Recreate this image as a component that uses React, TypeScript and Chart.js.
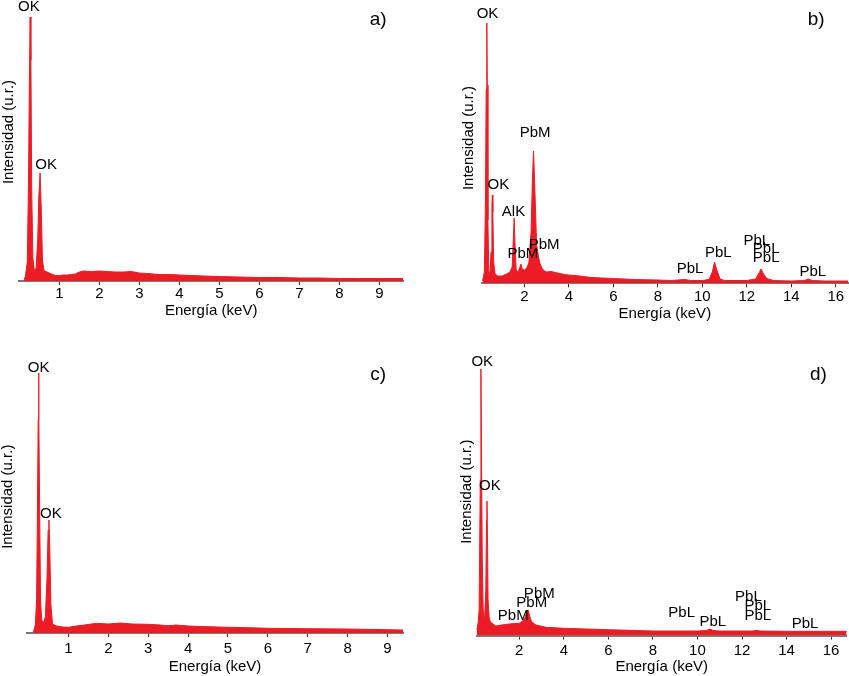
import React, { useEffect, useRef } from "react";
import { Chart, registerables } from "chart.js";

Chart.register(...registerables);

const FONT = '"Liberation Sans", Arial, Helvetica, sans-serif';
const RED = "rgb(237,28,36)";
const FS = 15;

// ---------------- DATA ----------------
// Panel a)
const energyA = [0.12, 0.15, 0.2, 0.23, 0.25, 0.27, 0.29, 0.31, 0.34, 0.38, 0.42, 0.46, 0.49, 0.52, 0.55, 0.58, 0.62, 0.7, 0.8, 0.9, 1.0, 1.1, 1.2, 1.3, 1.4, 1.5, 1.6, 1.8, 2.0, 2.2, 2.4, 2.6, 2.8, 3.0, 3.2, 3.5, 3.8, 4.0, 4.3, 4.6, 5.0, 5.5, 6.0, 6.5, 7.0, 7.5, 8.0, 8.5, 9.0, 9.59];
const intensityA = [2, 4, 19, 101, 191, 264, 221, 91, 23, 9, 13, 41, 86, 108, 71, 21, 10, 9, 7, 5.5, 5.5, 6, 6, 6.5, 7, 9, 10, 9.5, 10, 9.5, 9, 9, 9.5, 8, 7.5, 6.5, 6.5, 6, 5.5, 5, 4.5, 4, 3.5, 3.5, 3, 3, 2.5, 2.5, 2.5, 2.5];
const ticksA = [1, 2, 3, 4, 5, 6, 7, 8, 9];
const labelsA: [string, number, number][] = [
  ["OK", 0.24, 274],
  ["OK", 0.67, 116],
];

// Panel b)
const energyB = [0.12, 0.2, 0.25, 0.28, 0.31, 0.33, 0.36, 0.4, 0.45, 0.5, 0.54, 0.56, 0.58, 0.62, 0.68, 0.8, 1.0, 1.2, 1.35, 1.45, 1.5, 1.54, 1.58, 1.63, 1.72, 1.8, 1.84, 1.9, 2.0, 2.1, 2.2, 2.3, 2.36, 2.41, 2.45, 2.5, 2.55, 2.6, 2.68, 2.78, 2.9, 3.0, 3.2, 3.5, 3.8, 4.0, 4.5, 5.0, 5.5, 6.0, 7.0, 8.0, 8.6, 9.2, 9.5, 10.0, 10.3, 10.45, 10.55, 10.65, 10.8, 11.0, 12.0, 12.4, 12.55, 12.64, 12.75, 12.9, 13.2, 14.0, 14.6, 14.76, 14.95, 15.5, 16.55];
const intensityB = [2.3, 11.3, 83.3, 193.3, 260.3, 198.3, 63.3, 12.3, 9.3, 31.3, 78.3, 88.3, 71.3, 21.3, 9.3, 7.3, 7.3, 9.3, 11.3, 16.3, 43.3, 65.3, 38.3, 13.3, 11.3, 16.3, 19.3, 14.3, 13.3, 15.3, 20.3, 51.3, 103.3, 132.3, 108.3, 73.3, 38.3, 31.3, 21.3, 15.3, 12.3, 11.3, 11.8, 10.3, 8.8, 8.3, 7.3, 5.8, 5.3, 4.8, 3.8, 3.3, 2.8, 3.8, 2.8, 2.8, 3.8, 11.3, 21.3, 13.3, 4.3, 2.8, 2.8, 4.3, 10.3, 14.3, 9.3, 4.8, 2.8, 2.3, 2.8, 4.3, 2.8, 2.3, 2.3];
const ticksB = [2, 4, 6, 8, 10, 12, 14, 16];
const labelsB: [string, number, number][] = [
  ["OK", 0.34, 269.3],
  ["OK", 0.83, 98.3],
  ["AlK", 1.51, 71.6],
  ["PbM", 2.48, 150],
  ["PbM", 1.93, 29.3],
  ["PbM", 2.89, 38.3],
  ["PbL", 9.45, 14],
  ["PbL", 10.72, 30],
  ["PbL", 12.45, 42.6],
  ["PbL", 12.87, 34],
  ["PbL", 12.87, 25],
  ["PbL", 14.97, 11.6],
];

// Panel c)
const energyC = [0.12, 0.17, 0.2, 0.22, 0.24, 0.25, 0.26, 0.28, 0.3, 0.33, 0.37, 0.42, 0.46, 0.49, 0.51, 0.53, 0.56, 0.6, 0.7, 0.85, 1.0, 1.2, 1.4, 1.7, 2.0, 2.3, 2.6, 3.0, 3.3, 3.5, 3.7, 4.0, 4.5, 5.0, 5.5, 6.0, 7.0, 8.0, 9.0, 9.39];
const intensityC = [1, 8, 33, 113, 213, 260, 223, 113, 33, 13, 10, 16, 53, 103, 113, 88, 28, 9, 7, 6, 5.7, 7, 8, 9.7, 9, 10, 9, 8.7, 8, 7.3, 8, 7, 6.3, 5.7, 5.3, 4.7, 4.3, 4, 3.3, 3];
const ticksC = [1, 2, 3, 4, 5, 6, 7, 8, 9];
const labelsC: [string, number, number][] = [
  ["OK", 0.25, 264.7],
  ["OK", 0.56, 119],
];

// Panel d)
const energyD = [0.1, 0.16, 0.2, 0.25, 0.28, 0.31, 0.34, 0.38, 0.44, 0.5, 0.53, 0.55, 0.57, 0.6, 0.65, 0.7, 0.95, 1.2, 1.55, 1.8, 2.0, 2.15, 2.25, 2.35, 2.4, 2.47, 2.55, 2.75, 3.2, 4.0, 5.0, 6.0, 7.0, 8.0, 10.0, 10.4, 10.55, 10.7, 11.0, 12.5, 12.65, 12.8, 14.0, 16.7];
const intensityD = [5.5, 13.5, 25.5, 155.5, 266.5, 165.5, 75.5, 25.5, 14.5, 45.5, 115.5, 134.5, 105.5, 35.5, 17.5, 13.5, 9.5, 10.5, 11.5, 12, 12.2, 14.5, 17.5, 24.5, 25.5, 19.5, 13.8, 10.5, 8.2, 7.2, 6.5, 5.8, 5.2, 4.5, 4.5, 5, 6.5, 5, 4.5, 4.5, 5.2, 4.5, 4.2, 4.2];
const ticksD = [2, 4, 6, 8, 10, 12, 14, 16];
const labelsD: [string, number, number][] = [
  ["OK", 0.34, 273.8],
  ["OK", 0.68, 149.5],
  ["PbM", 1.73, 19.5],
  ["PbM", 2.56, 32.2],
  ["PbM", 2.9, 41.5],
  ["PbL", 9.29, 22.8],
  ["PbL", 10.69, 13.2],
  ["PbL", 12.29, 38.8],
  ["PbL", 12.71, 29.8],
  ["PbL", 12.71, 19.5],
  ["PbL", 14.83, 11.5],
];

const xTitle = "Energía (keV)";
const yTitle = "Intensidad (u.r.)";

// ---------------- LAYOUT ----------------
interface PanelCfg {
  left: number; top: number; width: number; height: number;
  padLeft: number; padRight: number; padTop: number; axisHeight: number;
  xMin: number; xMax: number; yMax: number;
  ticks: number[]; energy: number[]; intensity: number[];
  labels: [string, number, number][];
  letter: [string, number, number];
  yTitleX: number; yTitleY: number;
  tickPad: number; titlePad: number;
}

const panels: PanelCfg[] = [
  {
    left: 0, top: 0, width: 420, height: 330,
    padLeft: 19.3, padRight: 17, padTop: 17, axisHeight: 49,
    xMin: 0, xMax: 9.59, yMax: 264,
    ticks: ticksA, energy: energyA, intensity: intensityA, labels: labelsA,
    letter: ["a)", 8.97, 261], yTitleX: 8.5, yTitleY: 132, tickPad: 0, titlePad: 10,
  },
  {
    left: 430, top: 0, width: 419, height: 330,
    padLeft: 51.7, padRight: 1, padTop: 23, axisHeight: 46.7,
    xMin: 0.08, xMax: 16.55, yMax: 260.3,
    ticks: ticksB, energy: energyB, intensity: intensityB, labels: labelsB,
    letter: ["b)", 15.12, 264], yTitleX: 39, yTitleY: 138, tickPad: 0.5, titlePad: 7.3,
  },
  {
    left: 0, top: 340, width: 420, height: 336,
    padLeft: 27, padRight: 17, padTop: 33, axisHeight: 43,
    xMin: -0.04, xMax: 9.39, yMax: 260,
    ticks: ticksC, energy: energyC, intensity: intensityC, labels: labelsC,
    letter: ["c)", 8.77, 258], yTitleX: 7.5, yTitleY: 156.7, tickPad: 2.5, titlePad: 0.3,
  },
  {
    left: 430, top: 340, width: 419, height: 336,
    padLeft: 46.7, padRight: 2.3, padTop: 29, axisHeight: 40.5,
    xMin: 0.09, xMax: 16.7, yMax: 266.5,
    ticks: ticksD, energy: energyD, intensity: intensityD, labels: labelsD,
    letter: ["d)", 15.43, 260.5], yTitleX: 36.7, yTitleY: 151.7, tickPad: 2.5, titlePad: 0,
  },
];

function Panel({ cfg }: { cfg: PanelCfg }) {
  const ref = useRef<HTMLCanvasElement>(null);
  useEffect(() => {
    if (!ref.current) return;
    const textPlugin = {
      id: "panelText",
      afterDraw(chart: any) {
        const { ctx } = chart;
        const x = chart.scales.x;
        const y = chart.scales.y;
        ctx.save();
        ctx.fillStyle = "#000";
        ctx.textAlign = "center";
        ctx.textBaseline = "middle";
        ctx.font = `${FS}px ${FONT}`;
        cfg.labels.forEach(([t, kx, ky]) => {
          ctx.fillText(t, x.getPixelForValue(kx), y.getPixelForValue(ky));
        });
        ctx.font = `19px ${FONT}`;
        ctx.fillText(cfg.letter[0], x.getPixelForValue(cfg.letter[1]), y.getPixelForValue(cfg.letter[2]));
        ctx.translate(cfg.yTitleX, cfg.yTitleY);
        ctx.rotate(-Math.PI / 2);
        ctx.font = `${FS}px ${FONT}`;
        ctx.fillText(yTitle, 0, 0);
        ctx.restore();
      },
    };
    const chart = new Chart(ref.current, {
      type: "line",
      data: {
        datasets: [
          {
            data: cfg.energy.map((e, i) => ({ x: e, y: cfg.intensity[i] })),
            borderColor: RED,
            backgroundColor: RED,
            borderWidth: 1,
            pointRadius: 0,
            fill: "origin",
            tension: 0,
            clip: false as any,
          },
        ],
      },
      options: {
        animation: false,
        responsive: false,
        events: [],
        layout: { padding: { left: cfg.padLeft, right: cfg.padRight, top: cfg.padTop, bottom: 0 } },
        plugins: { legend: { display: false }, tooltip: { enabled: false } },
        scales: {
          x: {
            type: "linear",
            min: cfg.xMin,
            max: cfg.xMax,
            afterBuildTicks: (s: any) => {
              s.ticks = cfg.ticks.map((v) => ({ value: v }));
            },
            afterFit: (s: any) => {
              s.height = cfg.axisHeight;
            },
            ticks: {
              font: { family: FONT, size: FS },
              color: "#000",
              padding: cfg.tickPad,
              maxRotation: 0,
              autoSkip: false,
            },
            grid: { drawOnChartArea: false, drawTicks: true, tickLength: 4, color: "#333", lineWidth: 1 },
            border: { display: true, color: "#7a7a7a", width: 2 },
            title: {
              display: true,
              text: xTitle,
              font: { family: FONT, size: FS },
              color: "#000",
              padding: { top: 0, bottom: cfg.titlePad },
            },
          },
          y: { display: false, min: 0, max: cfg.yMax },
        },
      } as any,
      plugins: [textPlugin],
    });
    return () => chart.destroy();
  }, [cfg]);
  return (
    <canvas
      ref={ref}
      width={cfg.width}
      height={cfg.height}
      style={{ position: "absolute", left: cfg.left, top: cfg.top, width: cfg.width, height: cfg.height }}
    />
  );
}

export default function App() {
  return (
    <div style={{ position: "absolute", left: 0, top: 0, width: 849, height: 676, background: "#fff" }}>
      {panels.map((p, i) => (
        <Panel key={i} cfg={p} />
      ))}
    </div>
  );
}
